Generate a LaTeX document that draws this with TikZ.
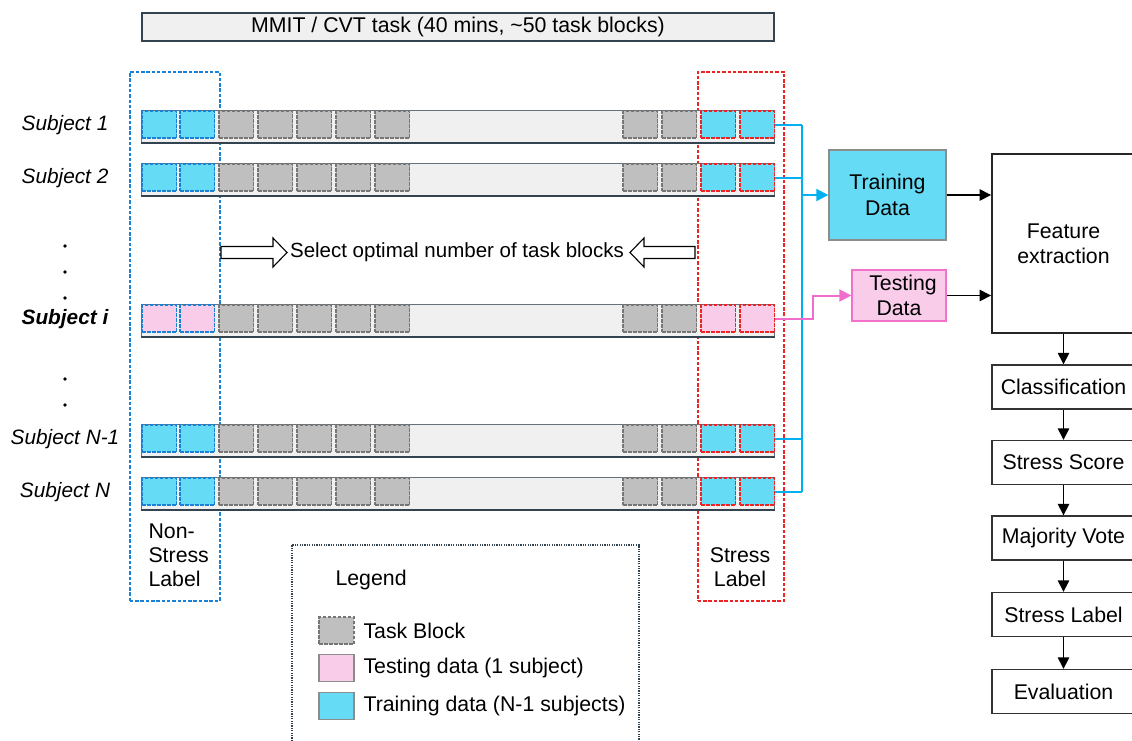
\documentclass[tikz,border=0pt]{standalone}
\usepackage{fontspec}
\setmainfont{Liberation Sans}
\usetikzlibrary{arrows.meta,calc}

\definecolor{taskfill}{HTML}{BFBFBF}
\definecolor{taskedge}{HTML}{767676}
\definecolor{trainfill}{HTML}{66DBF5}
\definecolor{testfill}{HTML}{F9CCEA}
\definecolor{testedge}{HTML}{F272CB}
\definecolor{nsblue}{HTML}{1A82D6}
\definecolor{sred}{HTML}{EE2424}
\definecolor{barfill}{HTML}{F0F0F0}
\definecolor{baredge}{HTML}{33434F}
\definecolor{linkcyan}{HTML}{00B0F0}
\definecolor{linkpink}{HTML}{F06CCD}
\definecolor{boxgray}{HTML}{8C8C8C}

\tikzset{
  txt/.style={font=\fontsize{21.3}{25}\selectfont},
  topbox/.style={draw=baredge, fill=barfill, line width=1.3pt, minimum width=632, minimum height=28, inner sep=0, txt},
  barbox/.style={draw=baredge!75, fill=barfill, line width=0.9pt, minimum width=633, minimum height=32, inner sep=0, anchor=north west},
  barbase/.style={draw=baredge, line width=2.4pt},
  blk/.style={minimum width=34.5, minimum height=27, inner sep=0, outer sep=0, line width=1.4pt, dash pattern=on 3.5pt off 1.5pt},
  taskblk/.style={blk, fill=taskfill, draw=taskedge},
  region/.style={line width=1.6pt, dash pattern=on 3.5pt off 1.8pt, minimum width=#1, minimum height=529, inner sep=0, anchor=north west},
  cyanline/.style={draw=linkcyan, line width=2pt},
  pinkline/.style={draw=linkpink, line width=2pt},
  tip/.style={-{Triangle[length=12pt,width=12pt]}},
  arr/.style={draw=black, line width=1.5pt, -{Triangle[length=11.5pt,width=11.5pt]}},
  stage/.style={draw=black!80, line width=1.4pt, minimum width=143, minimum height=44, inner sep=0, align=center, txt},
  subj/.style={font=\fontsize{20.8}{25}\selectfont\itshape},
  swatch/.style={minimum width=35, minimum height=27, inner sep=0, line width=1.4pt},
  dotmark/.style={fill=black, circle, inner sep=0, minimum size=3.6},
}

\begin{document}
\begin{tikzpicture}[x=1pt,y=-1pt]
\useasboundingbox (0,0) rectangle (1132,740);

% header
\node[topbox] (task) at (458,27) {MMIT / CVT task (40 mins, \textasciitilde50 task blocks)};

% non-stress and stress regions
\node[region=90, draw=nsblue] (nsreg) at (129,71) {};
\node[region=86, draw=sred] (sreg) at (697,71) {};

% subject rows: bar, two label blocks at each end, task blocks between
\foreach \r/\T/\fc in {a/110/trainfill, b/163/trainfill, i/304/testfill, m/424/trainfill, n/477/trainfill}{
  \node[barbox] (bar\r) at (141,\T) {};
  \draw[barbase] (bar\r.south west) -- (bar\r.south east);
  \foreach \k/\x in {1/159.25, 2/197.25}
    \node[blk, fill=\fc, draw=nsblue] (\r\k) at (\x,\T+14.5) {};
  \foreach \k/\x in {3/236.25, 4/275.25, 5/314.25, 6/353.25, 7/392.25, 8/640.25, 9/679.25}
    \node[taskblk] (\r\k) at (\x,\T+14.5) {};
  \foreach \k/\x in {10/718.25, 11/757.25}
    \node[blk, fill=\fc, draw=sred] (\r\k) at (\x,\T+14.5) {};
}

% subject labels
\node[subj] (la) at (65,125) {Subject 1};
\node[subj] (lb) at (65,178) {Subject 2};
\node[font=\fontsize{20.8}{25}\selectfont\bfseries\itshape] (li) at (65,319) {Subject i};
\node[subj] (lm) at (65,439) {Subject N-1};
\node[subj] (ln) at (65,492) {Subject N};
\node[dotmark] (d1) at (65,246) {};
\node[dotmark] (d2) at (65,272) {};
\node[dotmark] (d3) at (65,298) {};
\node[dotmark] (d4) at (65,379) {};
\node[dotmark] (d5) at (65,405) {};

% region captions
\node[txt, anchor=west, align=left, font=\fontsize{21.3}{24}\selectfont] (nslab) at (145,555) {Non-\\Stress\\Label};
\node[txt, align=center, font=\fontsize{21.3}{24.5}\selectfont] (slab) at (740,567) {Stress\\Label};

% block-selection arrows
\draw[line width=1.1pt, fill=white] (221,246.5) -- (273,246.5) -- (273,238) -- (287,252.5) -- (273,267) -- (273,258.5) -- (221,258.5) -- cycle;
\draw[line width=1.1pt, fill=white] (695,246.5) -- (644,246.5) -- (644,238) -- (630,252.5) -- (644,267) -- (644,258.5) -- (695,258.5) -- cycle;
\node[font=\fontsize{20.5}{24}\selectfont] (sel) at (457,252.5) {Select optimal number of task blocks};

% data boxes
\node[draw=boxgray, fill=trainfill, line width=1.4pt, minimum width=117, minimum height=90, inner sep=0, align=center, txt, font=\fontsize{21.3}{26}\selectfont] (train) at (887.5,195) {Training\\Data};
\node[draw=testedge, fill=testfill, line width=1.4pt, minimum width=94, minimum height=51, inner sep=0, align=center, txt, font=\fontsize{21.3}{24.5}\selectfont] (test) at (899,295.5) {\hspace*{8pt}Testing\\Data};

% links from stress blocks to the data boxes
\coordinate (trunk) at (802,0);
\foreach \r in {a,b,m,n}
  \draw[cyanline] (\r11.east) -- (\r11.east -| trunk);
\draw[cyanline] (trunk |- a11.east) -- (trunk |- n11.east);
\draw[cyanline, tip] (trunk |- train.west) -- (train.west);
\coordinate (pbend) at (813,0);
\draw[pinkline, tip] (i11.east) -- (i11.east -| pbend) |- (test.west);

% processing pipeline
\node[draw=black!85, line width=1.9pt, minimum width=143, minimum height=179, inner sep=0, align=center, txt] (feat) at (1063.5,243.5) {Feature\\extraction};
\draw[arr] (train.east) -- (train.east -| feat.west);
\draw[arr] (test.east) -- (test.east -| feat.west);

\node[stage] (cls) at (1063.5,387) {Classification};
\node[stage] (score) at (1063.5,462.5) {Stress Score};
\node[stage] (vote) at (1063.5,538) {Majority Vote};
\node[stage] (slbl) at (1063.5,614.5) {Stress Label};
\node[stage] (eval) at (1063.5,691.5) {Evaluation};
\draw[arr] (feat.south) -- (cls.north);
\draw[arr] (cls.south) -- (score.north);
\draw[arr] (score.south) -- (vote.north);
\draw[arr] (vote.south) -- (slbl.north);
\draw[arr] (slbl.south) -- (eval.north);

% legend
\node[draw=baredge, line width=1.6pt, dash pattern=on 1.2pt off 1.2pt, minimum width=347, minimum height=215, inner sep=0, anchor=north west] (legend) at (291,544) {};
\node[txt, anchor=west] (legtitle) at (332,580) {Legend};
\node[swatch, fill=taskfill, draw=taskedge, dash pattern=on 3.5pt off 1.5pt] (sw1) at (336.5,630.5) {};
\node[swatch, fill=testfill, draw=boxgray] (sw2) at (336.5,668) {};
\node[swatch, fill=trainfill, draw=boxgray] (sw3) at (336.5,706) {};
\node[txt, anchor=west] (lt1) at (360,630.5) {Task Block};
\node[txt, anchor=west] (lt2) at (360,668) {Testing data (1 subject)};
\node[txt, anchor=west] (lt3) at (360,706) {Training data (N-1 subjects)};
\end{tikzpicture}
\end{document}
